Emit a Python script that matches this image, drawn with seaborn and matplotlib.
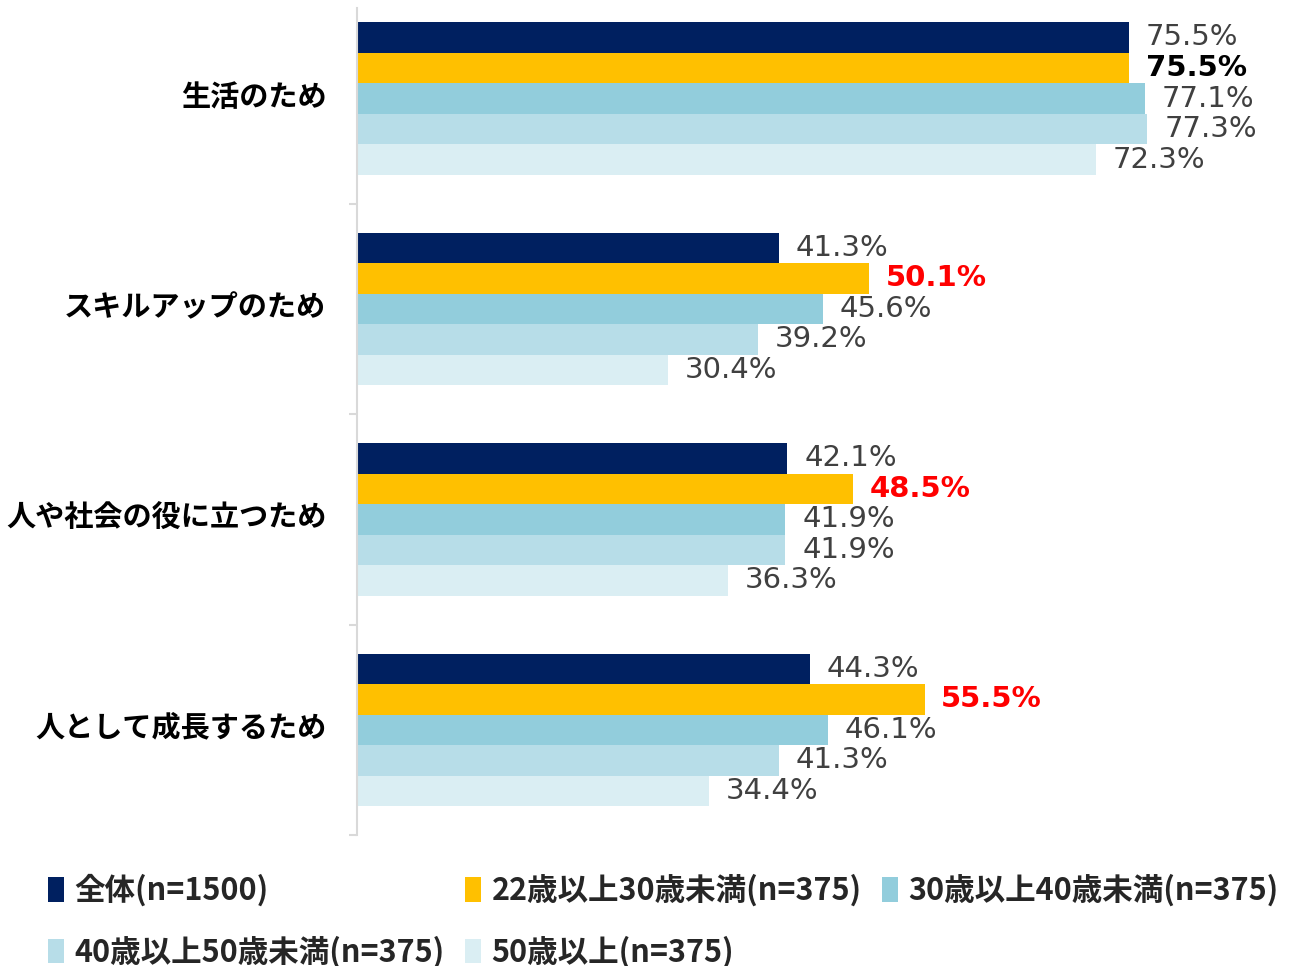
import pandas as pd
import matplotlib
matplotlib.use("Agg")
import matplotlib.pyplot as plt
import matplotlib.transforms as mtransforms
import seaborn as sns

categories = ["生活のため", "スキルアップのため", "人や社会の役に立つため", "人として成長するため"]
groups = ["全体(n=1500)", "22歳以上30歳未満(n=375)", "30歳以上40歳未満(n=375)",
          "40歳以上50歳未満(n=375)", "50歳以上(n=375)"]
overall = [75.5, 41.3, 42.1, 44.3]
age_20s = [75.5, 50.1, 48.5, 55.5]
age_30s = [77.1, 45.6, 41.9, 46.1]
age_40s = [77.3, 39.2, 41.9, 41.3]
age_50s = [72.3, 30.4, 36.3, 34.4]
colors = ["#002060", "#FFC000", "#92CDDC", "#B7DDE8", "#DAEEF3"]

series = [overall, age_20s, age_30s, age_40s, age_50s]
rows = []
for g, vals in zip(groups, series):
    for c, v in zip(categories, vals):
        rows.append({"category": c, "group": g, "value": v})
df = pd.DataFrame(rows)

sns.set_style("white")
plt.rcParams['font.family'] = ['Noto Sans CJK JP', 'DejaVu Sans']

fig = plt.figure(figsize=(13.07, 9.66), dpi=100)
ax = fig.add_axes([0.2731, 0.1356, 0.7269, 0.8561])

sns.barplot(data=df, y="category", x="value", hue="group", order=categories,
            hue_order=groups, palette=colors, orient="h", width=0.725, gap=0,
            saturation=1, linewidth=0, ax=ax, legend=True)

ax.set_xlim(0, 92.9)
ax.set_ylim(3.5, -0.43)
ax.set_xlabel("")
ax.set_ylabel("")
ax.set_xticks([])
for side in ["top", "right", "bottom"]:
    ax.spines[side].set_visible(False)
ax.spines["left"].set_color("#d9d9d9")
ax.spines["left"].set_linewidth(1.5)
ax.tick_params(axis="y", which="major", length=0, pad=22)
ax.set_yticks([0.5, 1.5, 2.5, 3.5], minor=True)
ax.tick_params(axis="y", which="minor", left=True, length=6, color="#d9d9d9", width=1.5)
shift = mtransforms.ScaledTranslation(0, 5 / 100, fig.dpi_scale_trans)
for lbl in ax.get_yticklabels():
    lbl.set_fontsize(21)
    lbl.set_fontweight("bold")
    lbl.set_color("#000000")
    lbl.set_transform(lbl.get_transform() + shift)

# data labels
for gi, cont in enumerate(ax.containers):
    for ci, bar in enumerate(cont):
        v = series[gi][ci]
        color, weight = "#404040", "normal"
        if gi == 1:
            weight = "bold"
            color = "#000000" if ci == 0 else "#FF0000"
        ax.annotate(f"{v:.1f}%", (bar.get_width(), bar.get_y() + bar.get_height() / 2),
                    xytext=(12, 0), textcoords="offset points", va="center", ha="left",
                    fontsize=21, color=color, fontweight=weight,
                    family=["DejaVu Sans"])

handles, labels = ax.get_legend_handles_labels()
ax.get_legend().remove()
order = [0, 3, 1, 4, 2]
leg = fig.legend([handles[i] for i in order], [labels[i] for i in order],
                 ncol=3, loc="lower left", bbox_to_anchor=(0.016, -0.031),
                 frameon=False, handlelength=0.5, handleheight=0.85,
                 handletextpad=0.35, columnspacing=0.68, labelspacing=0.95,
                 prop={"size": 22, "weight": "bold"})

fig.savefig("out.png", dpi=100)
